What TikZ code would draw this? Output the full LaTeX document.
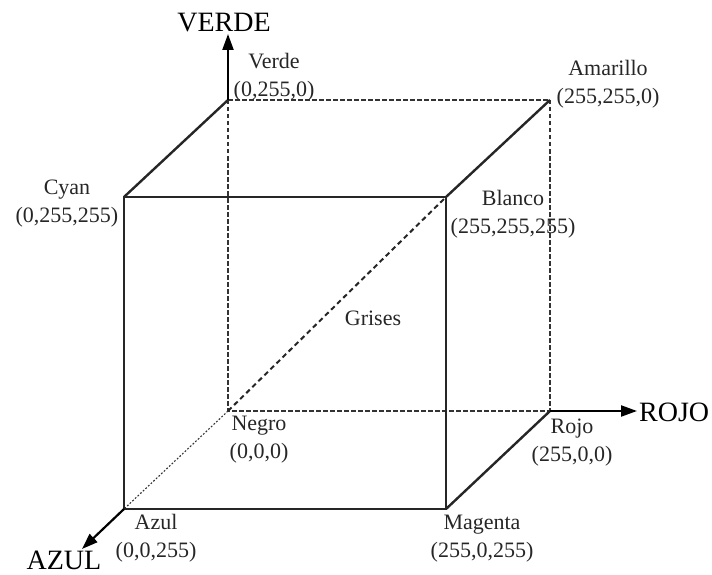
\documentclass[tikz,border=0pt]{standalone}
\usepackage{fontspec}
\setmainfont{Liberation Serif}
\usetikzlibrary{arrows.meta}

\begin{document}
\begin{tikzpicture}[x=1pt, y=-1pt,
    lbl/.style={font=\fontsize{22}{28}\selectfont, inner sep=0pt, align=center, text=black!85},
    axlbl/.style={font=\fontsize{28}{30}\selectfont, inner sep=0pt},
    edge/.style={line width=2.4pt, black!85},
    hid/.style={line width=1.8pt, black!80, dash pattern=on 4.5pt off 2.5pt},
    gris/.style={line width=2pt, black!85, dash pattern=on 5pt off 3.5pt},
    fino/.style={line width=1.1pt, black!80, dash pattern=on 1.8pt off 1.8pt},
    eje/.style={-{Triangle[length=16pt, width=11pt]}, line width=2.2pt},
]
\useasboundingbox (0,0) rectangle (712,575);

% Corners
\coordinate (negro) at (228,411);
\coordinate (verde) at (228,100);
\coordinate (amarillo) at (550,100);
\coordinate (rojo) at (550,411);
\coordinate (azul) at (124,509);
\coordinate (cyan) at (124,197);
\coordinate (blanco) at (446,197);
\coordinate (magenta) at (446,509);
\coordinate (tipverde) at (228,34);
\coordinate (tiprojo) at (637,411);
\coordinate (tipazul) at (82,549);

% Hidden edges
\draw[hid] (verde) -- (negro) -- (rojo);
\draw[hid] (verde) -- (amarillo) -- (rojo);
\draw[fino] (negro) -- (azul);
\draw[gris] (negro) -- (blanco);

% Visible edges
\draw[edge] (cyan) -- (blanco) -- (magenta) -- (azul) -- cycle;
\draw[edge] (cyan) -- (verde);
\draw[edge] (blanco) -- (amarillo);
\draw[edge] (magenta) -- (rojo);

% Axes
\draw[eje] (verde) -- (tipverde);
\draw[eje] (rojo) -- (tiprojo);
\draw[eje] (azul) -- (tipazul);
\node[axlbl] (ejeverde) at (224,23) {VERDE};
\node[axlbl, anchor=west] (ejerojo) at (639,412) {ROJO};
\node[axlbl] (ejeazul) at (64,560) {AZUL};

% Labels
\node[lbl] (lverde) at (274,77) {Verde\\(0,255,0)};
\node[lbl] (lcyan) at (67,204) {Cyan\\(0,255,255)};
\node[lbl] (lamarillo) at (608,84) {Amarillo\\(255,255,0)};
\node[lbl] (lblanco) at (513,214) {Blanco\\(255,255,255)};
\node[lbl] (lnegro) at (259,440) {Negro\\(0,0,0)};
\node[lbl] (lazul) at (156,538) {Azul\\(0,0,255)};
\node[lbl] (lrojo) at (572,443) {Rojo\\(255,0,0)};
\node[lbl] (lmagenta) at (482,539) {Magenta\\(255,0,255)};
\node[lbl] (lgrises) at (373,318) {Grises};
\end{tikzpicture}
\end{document}
